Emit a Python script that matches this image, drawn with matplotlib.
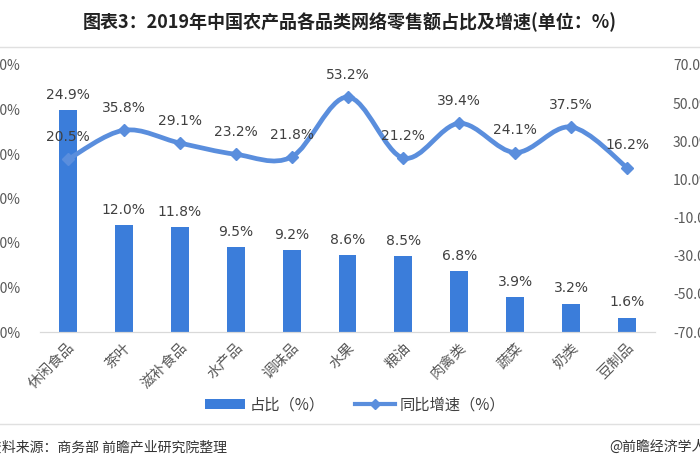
import matplotlib
matplotlib.use("Agg")
import matplotlib.pyplot as plt
import numpy as np
from matplotlib.path import Path
from matplotlib.patches import PathPatch, Patch
from matplotlib.lines import Line2D

plt.rcParams['font.family'] = ['Noto Sans CJK SC', 'DejaVu Sans']

categories = ["休闲食品", "茶叶", "滋补食品", "水产品", "调味品", "水果", "粮油", "肉禽类", "蔬菜", "奶类", "豆制品"]
share = [24.9, 12.0, 11.8, 9.5, 9.2, 8.6, 8.5, 6.8, 3.9, 3.2, 1.6]
growth = [20.5, 35.8, 29.1, 23.2, 21.8, 53.2, 21.2, 39.4, 24.1, 37.5, 16.2]
left_ticks = [0, 5, 10, 15, 20, 25, 30]
right_ticks = [-70, -50, -30, -10, 10, 30, 50, 70]

title = "图表3：2019年中国农产品各品类网络零售额占比及增速(单位：%)"
source = "资料来源：商务部 前瞻产业研究院整理"
credit = "@前瞻经济学人"

bar_color = "#3B7DDA"
line_color = "#5A8EDD"
text_color = "#404040"
tick_color = "#595959"

W, H = 700, 470
fig = plt.figure(figsize=(7, 4.7), dpi=100)
ax = fig.add_axes([40 / W, 1 - 332 / H, (655 - 40) / W, (332 - 65) / H])
ax2 = ax.twinx()

x = np.arange(len(categories))
ax.bar(x, share, width=0.32, color=bar_color, zorder=2)
ax.set_xlim(-0.5, len(categories) - 0.5)
ax.set_ylim(0, 30)
ax.set_yticks(left_ticks)
ax.set_yticklabels([f"{v:.1f}%" for v in left_ticks])
ax2.set_ylim(-70, 70)
ax2.set_yticks(right_ticks)
ax2.set_yticklabels([f"{v:.1f}%" for v in right_ticks])

for a in (ax, ax2):
    for s in ("top", "left", "right"):
        a.spines[s].set_visible(False)
    a.spines["bottom"].set_color("#D9D9D9")
    a.tick_params(axis="y", length=0, labelsize=10, labelcolor=tick_color)
ax.tick_params(axis="y", pad=14)
ax2.tick_params(axis="y", pad=13)
ax.tick_params(axis="x", length=0, pad=6)
ax.set_xticks(x)
ax.set_xticklabels(categories, rotation=45, ha="right", rotation_mode="anchor",
                   fontsize=10.5, color=tick_color)

# smooth line through the data points (Catmull-Rom as cubic Bezier)
pts = np.column_stack([x, growth]).astype(float)
ext = np.vstack([pts[0], pts, pts[-1]])
verts = [tuple(pts[0])]
codes = [Path.MOVETO]
for i in range(len(pts) - 1):
    p0, p1, p2, p3 = ext[i], ext[i + 1], ext[i + 2], ext[i + 3]
    c1 = p1 + (p2 - p0) / 6.0
    c2 = p2 - (p3 - p1) / 6.0
    verts += [tuple(c1), tuple(c2), tuple(p2)]
    codes += [Path.CURVE4] * 3
ax2.add_patch(PathPatch(Path(verts, codes), facecolor="none", edgecolor=line_color,
                        lw=3.4, zorder=3, capstyle="round", joinstyle="round"))
ax2.plot(x, growth, linestyle="none", marker="D", markersize=6, color=line_color, zorder=4)

for xi, v in zip(x, share):
    ax.annotate(f"{v:.1f}%", (xi, v), xytext=(0, 11), textcoords="offset points",
                ha="center", va="center", fontsize=10, color=text_color, family="DejaVu Sans")
for xi, v in zip(x, growth):
    ax2.annotate(f"{v:.1f}%", (xi, v), xytext=(0, 16), textcoords="offset points",
                 ha="center", va="center", fontsize=10, color=text_color, family="DejaVu Sans")

fig.text(0.5, 1 - 22 / H, title, ha="center", va="center", fontsize=13,
         fontweight="bold", color="#222222")
fig.add_artist(Line2D([0, 1], [1 - 47 / H, 1 - 47 / H], color="#E0E0E0", lw=1))
fig.add_artist(Line2D([0, 1], [1 - 424 / H, 1 - 424 / H], color="#E0E0E0", lw=1))

handles = [Patch(facecolor=bar_color), Line2D([], [], color=line_color, lw=3, marker="D", markersize=5)]
fig.legend(handles, ["占比（%）", "同比增速（%）"], loc="center", bbox_to_anchor=(355 / W, 1 - 405 / H),
           ncol=2, frameon=False, fontsize=11, handlelength=2.6, handleheight=0.6,
           columnspacing=2.0, handletextpad=0.3, labelcolor=text_color)

fig.text(-12 / W, 1 - 447 / H, source, ha="left", va="center", fontsize=10, color="#333333")
fig.text(706 / W, 1 - 447 / H, credit, ha="right", va="center", fontsize=10, color="#333333")

fig.savefig("out.png", dpi=100)
